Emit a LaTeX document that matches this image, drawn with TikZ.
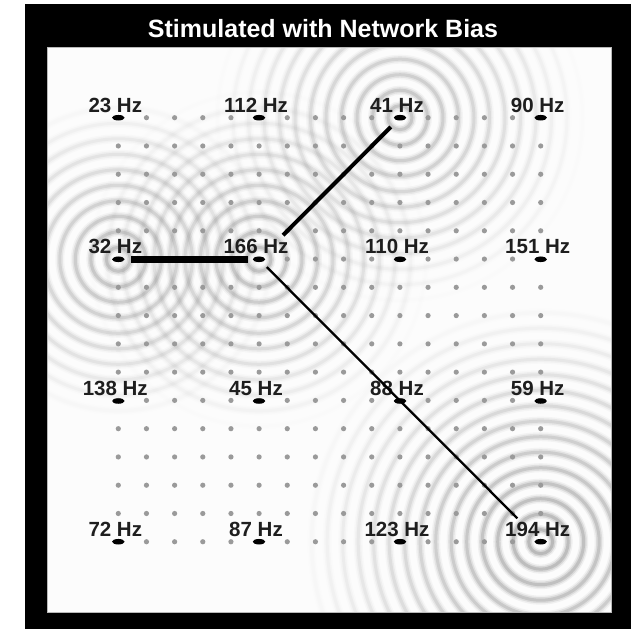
\documentclass[tikz,border=0pt]{standalone}
\usepackage{fontspec}
\setmainfont{Liberation Sans}
\usetikzlibrary{shapes.geometric}
\definecolor{dotgray}{HTML}{9A9A9A}
\definecolor{ringgray}{HTML}{8A8A8A}
\definecolor{panelbg}{HTML}{FCFCFC}
\definecolor{labelink}{HTML}{1E1E1E}
\begin{document}
\begin{tikzpicture}[x=1pt,y=-1pt,
  electrode/.style={ellipse, fill=black, minimum width=12.5pt, minimum height=5.5pt, inner sep=0pt},
  hzlabel/.style={anchor=base, font=\bfseries\fontsize{20.5}{21}\selectfont, inner sep=0pt, text=labelink},
  griddot/.style={fill=dotgray, draw=none},
  softband/.style={draw=ringgray, line width=9pt},
  wideband/.style={draw=ringgray, line width=6pt},
  coreband/.style={draw=ringgray, line width=3pt},
  link/.style={draw=black, line cap=butt}]
\useasboundingbox (0,0) rectangle (631,629);
\fill[white] (0,0) rectangle (631,629);
\fill[black] (25,4) rectangle (631,629);
\node[text=white, font=\bfseries\fontsize{25}{25}\selectfont, anchor=base, inner sep=0pt] (title) at (323,37) {Stimulated with Network Bias};
\fill[panelbg] (47,47) rectangle (611,612);
\begin{scope}
  \clip (47,47) rectangle (611,612);
  \foreach \cx/\cy/\amp/\R in {540.7/541.7/0.85/240, 400/117.7/0.65/185, 118.3/259.3/0.7/160, 259/259.3/0.7/170} {
    \foreach \r in {12,27.5,...,240} {
      \pgfmathsetmacro\opz{max(0,0.15*\amp*(1-\r/\R))}
      \pgfmathsetmacro\opa{max(0,0.3*\amp*(1-\r/\R))}
      \pgfmathsetmacro\opb{max(0,0.45*\amp*(1-\r/\R))}
      \draw[softband, draw opacity=\opz] (\cx,\cy) circle[radius=\r pt];
      \draw[wideband, draw opacity=\opa] (\cx,\cy) circle[radius=\r pt];
      \draw[coreband, draw opacity=\opb] (\cx,\cy) circle[radius=\r pt];
    }
  }
\end{scope}
\draw[gray!55, line width=1pt] (47,47) rectangle (611,612);
\foreach \i in {0,...,15} {
  \foreach \j in {0,...,15} {
    \fill[griddot] ({118.3+28.16*\i},{117.7+28.27*\j}) circle[radius=2.6pt];
  }
}
\foreach \f/\x/\y in {23/118.3/117.7, 112/259/117.7, 41/400/117.7, 90/540.7/117.7,
                      32/118.3/259.3, 166/259/259.3, 110/400/259.3, 151/540.7/259.3,
                      138/118.3/401, 45/259/401, 88/400/401, 59/540.7/401,
                      72/118.3/541.7, 87/259/541.7, 123/400/541.7, 194/540.7/541.7} {
  \node[electrode] (e\f) at (\x,\y) {};
  \node[hzlabel] (l\f) at (\x-3,\y-5.5) {\f\ Hz};
}
\draw[link, line width=6.5pt, shorten <=12.7pt, shorten >=11pt] (e32.center) -- (e166.center);
\draw[link, line width=4pt, shorten <=34pt, shorten >=13pt] (e166.center) -- (e41.center);
\draw[link, line width=2.3pt, shorten <=11pt, shorten >=33pt] (e166.center) -- (e194.center);
\end{tikzpicture}
\end{document}
